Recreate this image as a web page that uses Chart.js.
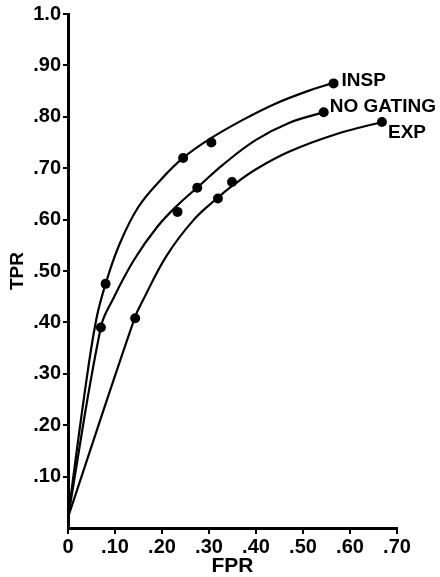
<!DOCTYPE html>
<html>
<head>
<meta charset="utf-8">
<title>TPR vs FPR</title>
<script src="https://cdn.jsdelivr.net/npm/chart.js@4.4.1/dist/chart.umd.min.js"></script>
<style>
	html, body { margin: 0; padding: 0; background: #fff; }
	#box { width: 440px; height: 577px; }
</style>
</head>
<body>
<div id="box"><canvas id="roc" width="440" height="577"></canvas></div>
<script>
// tick labels
var xTickLabels = ['0', '.10', '.20', '.30', '.40', '.50', '.60', '.70'];
var yTickLabels = ['', '.10', '.20', '.30', '.40', '.50', '.60', '.70', '.80', '.90', '1.0'];

var seriesNames = ['INSP', 'NO GATING', 'EXP'];

// measured points (FPR, TPR)
var fprInsp = [0.080, 0.245, 0.305, 0.565];
var tprInsp = [0.475, 0.720, 0.750, 0.865];
var fprNoGating = [0.070, 0.233, 0.275, 0.544];
var tprNoGating = [0.390, 0.615, 0.662, 0.809];
var fprExp = [0.143, 0.319, 0.349, 0.668];
var tprExp = [0.408, 0.641, 0.673, 0.790];

// fitted curves
var curveInspX = [0, 0.035, 0.06, 0.08, 0.11, 0.15, 0.20, 0.245, 0.30, 0.37, 0.44, 0.51, 0.565];
var curveInspY = [0.021, 0.26, 0.405, 0.475, 0.553, 0.625, 0.68, 0.72, 0.756, 0.793, 0.825, 0.85, 0.866];
var curveNoGatingX = [0, 0.07, 0.095, 0.14, 0.19, 0.233, 0.276, 0.33, 0.40, 0.47, 0.544];
var curveNoGatingY = [0.021, 0.391, 0.444, 0.521, 0.586, 0.628, 0.663, 0.707, 0.755, 0.788, 0.809];
var curveExpX = [0, 0.142, 0.16, 0.21, 0.267, 0.318, 0.35, 0.40, 0.47, 0.57, 0.668];
var curveExpY = [0.021, 0.409, 0.444, 0.53, 0.599, 0.642, 0.666, 0.698, 0.732, 0.766, 0.790];

function toXY(xs, ys) {
	return xs.map(function(x, i) { return {x: x, y: ys[i]}; });
}

function curveSet(xs, ys) {
	return {
		data: toXY(xs, ys),
		showLine: true,
		borderColor: '#000',
		borderWidth: 2.2,
		pointRadius: 0,
		tension: 0.4
	};
}

function dotSet(name, xs, ys) {
	return {
		label: name,
		data: toXY(xs, ys),
		showLine: false,
		pointRadius: 5,
		pointBackgroundColor: '#000',
		pointBorderColor: '#000',
		pointBorderWidth: 0
	};
}

// writes the series name beside its last point
var endLabels = {
	id: 'endLabels',
	afterDatasetsDraw: function(chart, args, opts) {
		var ctx = chart.ctx;
		ctx.save();
		ctx.fillStyle = '#000';
		ctx.font = 'bold 19px "Liberation Sans", Arial, sans-serif';
		ctx.textBaseline = 'middle';
		ctx.textAlign = 'left';
		chart.data.datasets.forEach(function(ds, i) {
			if (!ds.label) return;
			var meta = chart.getDatasetMeta(i);
			var last = meta.data[meta.data.length - 1];
			var off = opts.offsets[ds.label] || [8, 0];
			ctx.fillText(ds.label, last.x + off[0], last.y + off[1]);
		});
		ctx.restore();
	}
};

var tickFont = {family: '"Liberation Sans", Arial, sans-serif', size: 20, weight: 'bold'};

var chart = new Chart(document.getElementById('roc'), {
	type: 'scatter',
	data: {
		datasets: [
			curveSet(curveInspX, curveInspY),
			curveSet(curveNoGatingX, curveNoGatingY),
			curveSet(curveExpX, curveExpY),
			dotSet(seriesNames[0], fprInsp, tprInsp),
			dotSet(seriesNames[1], fprNoGating, tprNoGating),
			dotSet(seriesNames[2], fprExp, tprExp)
		]
	},
	plugins: [endLabels],
	options: {
		responsive: false,
		animation: false,
		layout: {padding: {top: 14, right: 43, left: 0, bottom: 0}},
		plugins: {
			legend: {display: false},
			tooltip: {enabled: false},
			endLabels: {
				offsets: {'INSP': [8, -3], 'NO GATING': [6, -5], 'EXP': [6, 11]}
			}
		},
		scales: {
			x: {
				type: 'linear',
				min: 0,
				max: 0.7,
				afterFit: function(scale) { scale.height = 49; },
				border: {display: true, color: '#000', width: 3},
				grid: {
					drawOnChartArea: false,
					drawTicks: true,
					tickLength: 6,
					lineWidth: 2,
					color: '#000'
				},
				ticks: {
					stepSize: 0.1,
					color: '#000',
					font: tickFont,
					padding: 1,
					maxRotation: 0,
					callback: function(v, i) { return xTickLabels[i]; }
				},
				title: {
					display: true,
					text: 'FPR',
					color: '#000',
					font: {family: '"Liberation Sans", Arial, sans-serif', size: 21, weight: 'bold'},
					padding: {top: 0, bottom: -2}
				}
			},
			y: {
				type: 'linear',
				min: 0,
				max: 1.0,
				afterFit: function(scale) { scale.width = 68; },
				border: {display: true, color: '#000', width: 3},
				grid: {
					drawOnChartArea: false,
					drawTicks: true,
					tickLength: 5,
					lineWidth: 2,
					color: function(c) { return c.tick && c.tick.value === 0 ? 'rgba(0,0,0,0)' : '#000'; }
				},
				ticks: {
					stepSize: 0.1,
					color: '#000',
					font: tickFont,
					padding: 2,
					callback: function(v, i) { return yTickLabels[i]; }
				},
				title: {
					display: true,
					text: 'TPR',
					color: '#000',
					font: {family: '"Liberation Sans", Arial, sans-serif', size: 19, weight: 'bold'},
					padding: {top: 6, bottom: 0}
				}
			}
		}
	}
});
</script>
</body>
</html>
